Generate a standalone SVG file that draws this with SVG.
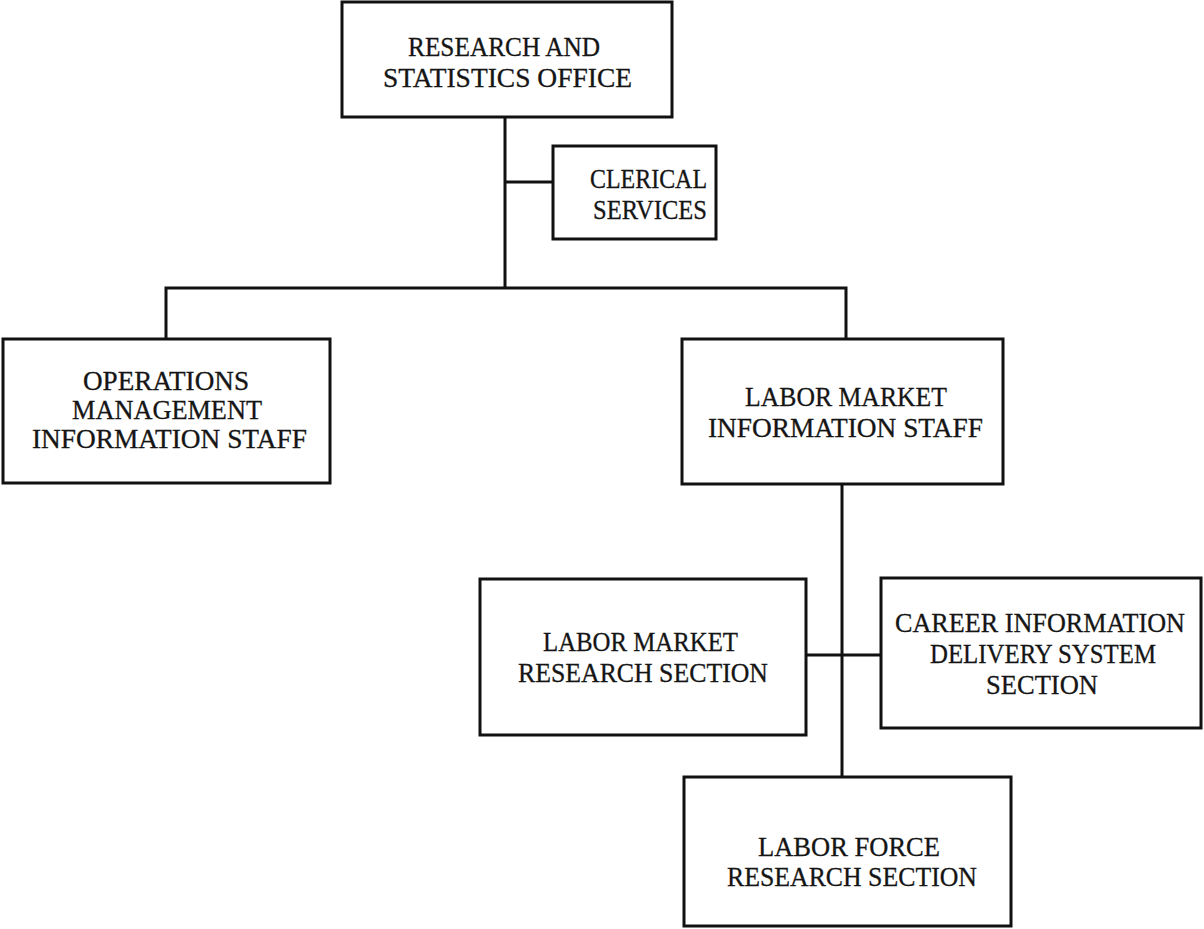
<svg xmlns="http://www.w3.org/2000/svg" width="1204" height="929" viewBox="0 0 1204 929">
  <style>
    .box { fill: #ffffff; stroke: #111111; stroke-width: 3; }
    .link { fill: none; stroke: #111111; stroke-width: 3; }
    .label { font-family: "Liberation Serif", "Times New Roman", serif; font-size: 27px; fill: #151515; stroke: #151515; stroke-width: 0.3; text-anchor: middle; }
  </style>
  <rect width="1204" height="929" fill="#ffffff"/>

  <g id="connectors">
    <path class="link" d="M505 117 V288"/>
    <path class="link" d="M505 182 H553"/>
    <path class="link" d="M166 339 V288 H846 V339"/>
    <path class="link" d="M842 484 V777"/>
    <path class="link" d="M806 655 H880"/>
  </g>

  <g id="research-statistics-office">
    <rect class="box" x="342" y="2" width="330" height="115"/>
    <text class="label" x="504" y="56" textLength="192" lengthAdjust="spacingAndGlyphs">RESEARCH AND</text>
    <text class="label" x="507.5" y="87" textLength="249" lengthAdjust="spacingAndGlyphs">STATISTICS OFFICE</text>
  </g>

  <g id="clerical-services">
    <rect class="box" x="553" y="146" width="163" height="93"/>
    <text class="label" x="648.5" y="188" textLength="117" lengthAdjust="spacingAndGlyphs">CLERICAL</text>
    <text class="label" x="650" y="219" textLength="114" lengthAdjust="spacingAndGlyphs">SERVICES</text>
  </g>

  <g id="operations-management-information-staff">
    <rect class="box" x="3" y="339" width="327" height="144"/>
    <text class="label" x="166" y="390" textLength="166" lengthAdjust="spacingAndGlyphs">OPERATIONS</text>
    <text class="label" x="167" y="419" textLength="190" lengthAdjust="spacingAndGlyphs">MANAGEMENT</text>
    <text class="label" x="169.5" y="448" textLength="275" lengthAdjust="spacingAndGlyphs">INFORMATION STAFF</text>
  </g>

  <g id="labor-market-information-staff">
    <rect class="box" x="682" y="339" width="321" height="145"/>
    <text class="label" x="846" y="406" textLength="202" lengthAdjust="spacingAndGlyphs">LABOR MARKET</text>
    <text class="label" x="845.5" y="437" textLength="275" lengthAdjust="spacingAndGlyphs">INFORMATION STAFF</text>
  </g>

  <g id="labor-market-research-section">
    <rect class="box" x="480" y="579" width="326" height="156"/>
    <text class="label" x="640.5" y="651" textLength="195" lengthAdjust="spacingAndGlyphs">LABOR MARKET</text>
    <text class="label" x="643" y="682" textLength="250" lengthAdjust="spacingAndGlyphs">RESEARCH SECTION</text>
  </g>

  <g id="career-information-delivery-system-section">
    <rect class="box" x="881" y="578" width="320" height="150"/>
    <text class="label" x="1040" y="632" textLength="290" lengthAdjust="spacingAndGlyphs">CAREER INFORMATION</text>
    <text class="label" x="1043" y="663" textLength="226" lengthAdjust="spacingAndGlyphs">DELIVERY SYSTEM</text>
    <text class="label" x="1042" y="694" textLength="112" lengthAdjust="spacingAndGlyphs">SECTION</text>
  </g>

  <g id="labor-force-research-section">
    <rect class="box" x="684" y="777" width="327" height="149"/>
    <text class="label" x="849" y="856" textLength="182" lengthAdjust="spacingAndGlyphs">LABOR FORCE</text>
    <text class="label" x="852" y="886" textLength="250" lengthAdjust="spacingAndGlyphs">RESEARCH SECTION</text>
  </g>
</svg>
